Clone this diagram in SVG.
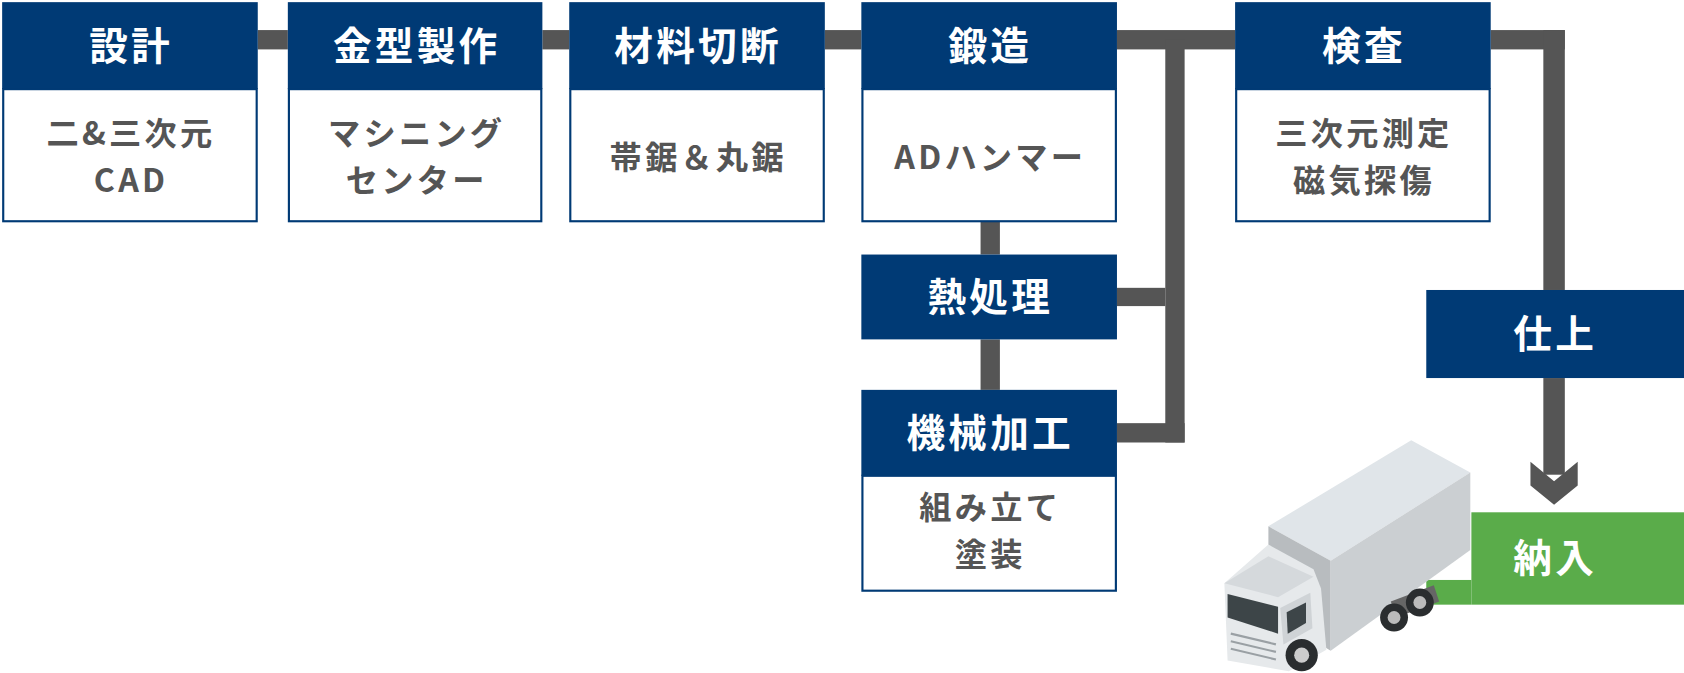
<svg xmlns="http://www.w3.org/2000/svg" width="1684" height="673" viewBox="0 0 1684 673">
<style>
.hd{fill:#003a75}
.bd{fill:#fff;stroke:#003a75;stroke-width:2}
.ht{fill:#fff;font-family:"Noto Sans CJK JP","Noto Sans",sans-serif;font-weight:700;font-size:36px;text-anchor:middle;letter-spacing:3px}
.bt{fill:#555;font-family:"Noto Sans CJK JP","Noto Sans",sans-serif;font-weight:700;font-size:30px;text-anchor:middle;letter-spacing:3px}
.ln{fill:#555}
</style>
<rect width="1684" height="673" fill="#fff"/>
<g transform="scale(1.074)">
<g id="connectors">
<rect class="ln" x="240" y="28" width="28" height="18"/>
<rect class="ln" x="505" y="28" width="25" height="18"/>
<rect class="ln" x="768" y="28" width="34" height="18"/>
<rect class="ln" x="1040" y="28" width="110" height="18"/>
<rect class="ln" x="1085" y="37" width="18" height="375"/>
<rect class="ln" x="1040" y="268" width="45" height="17"/>
<rect class="ln" x="1040" y="394" width="63" height="18"/>
<rect class="ln" x="913" y="206" width="18" height="31"/>
<rect class="ln" x="913" y="316" width="18" height="47"/>
<rect class="ln" x="1388" y="28" width="69" height="18"/>
<rect class="ln" x="1437" y="28" width="20" height="242"/>
<rect class="ln" x="1437" y="352" width="20" height="90"/>
<polygon class="ln" points="1425,430 1447,448 1469,430 1469,452 1447,470 1425,452"/>
</g>
<g id="n1"><rect class="hd" x="2" y="2" width="238" height="81"/><rect class="bd" x="3" y="83" width="236" height="123"/>
<text class="ht" x="122" y="56">設計</text><text class="bt" x="122" y="135">二&amp;三次元</text><text class="bt" x="122" y="179">CAD</text></g>
<g id="n2"><rect class="hd" x="268" y="2" width="237" height="81"/><rect class="bd" x="269" y="83" width="235" height="123"/>
<text class="ht" x="388" y="56">金型製作</text><text class="bt" x="388" y="135">マシニング</text><text class="bt" x="388" y="179">センター</text></g>
<g id="n3"><rect class="hd" x="530" y="2" width="238" height="81"/><rect class="bd" x="531" y="83" width="236" height="123"/>
<text class="ht" x="650" y="56">材料切断</text><text class="bt" x="650" y="157">帯鋸＆丸鋸</text></g>
<g id="n4"><rect class="hd" x="802" y="2" width="238" height="81"/><rect class="bd" x="803" y="83" width="236" height="123"/>
<text class="ht" x="922" y="56">鍛造</text><text class="bt" x="922" y="157">ADハンマー</text></g>
<g id="n5"><rect class="hd" x="1150" y="2" width="238" height="81"/><rect class="bd" x="1151" y="83" width="236" height="123"/>
<text class="ht" x="1270" y="56">検査</text><text class="bt" x="1270" y="135">三次元測定</text><text class="bt" x="1270" y="179">磁気探傷</text></g>
<g id="n6"><rect class="hd" x="802" y="237" width="238" height="79"/><text class="ht" x="922" y="290">熱処理</text></g>
<g id="n7"><rect class="hd" x="802" y="363" width="238" height="80"/><rect class="bd" x="803" y="443" width="236" height="107"/>
<text class="ht" x="922" y="416">機械加工</text><text class="bt" x="922" y="483">組み立て</text><text class="bt" x="922" y="527">塗装</text></g>
<g id="n8"><rect class="hd" x="1328" y="270" width="240" height="82"/><text class="ht" x="1448" y="324">仕上</text></g>
<g id="n9"><rect x="1370" y="477" width="198" height="86" fill="#5aac4a"/><rect x="1328" y="540" width="42" height="23" fill="#5aac4a"/><text class="ht" x="1448" y="533">納入</text></g>
<g id="truck">
<polygon points="1181,490 1314,410 1369,440 1239,522" fill="#e0e5e9"/>
<polygon points="1181,490 1239,522 1239,606 1181,570" fill="#b8bcbf"/>
<polygon points="1239,522 1369,440 1369,512 1239,606" fill="#cbcfd2"/>
<polygon points="1295,560 1335,545 1340,560 1300,575" fill="#666"/>
<circle cx="1298" cy="575" r="13" fill="#2a2d2f"/><circle cx="1298" cy="575" r="6" fill="#bbb"/>
<circle cx="1322" cy="561" r="13" fill="#2a2d2f"/><circle cx="1322" cy="561" r="6" fill="#bbb"/>
<polygon points="1140,543 1181,507 1223,530 1230,548 1235,605 1200,625 1143,615" fill="#e6e9eb"/>
<polygon points="1140,543 1181,518 1223,537 1190,556" fill="#d5d9dc"/>
<polygon points="1143,553 1190,565 1190,590 1143,575" fill="#3d4548"/>
<polygon points="1192,566 1220,552 1222,585 1195,600" fill="#cfd3d6"/>
<polygon points="1198,570 1216,561 1216,580 1199,590" fill="#3d4548"/>
<g stroke="#9aa0a4" stroke-width="2"><line x1="1146" y1="590" x2="1188" y2="600"/><line x1="1146" y1="597" x2="1188" y2="607"/><line x1="1146" y1="604" x2="1188" y2="614"/></g>
<circle cx="1212" cy="610" r="15" fill="#2a2d2f"/><circle cx="1212" cy="610" r="7" fill="#ccc"/>
</g>
</g>
</svg>
